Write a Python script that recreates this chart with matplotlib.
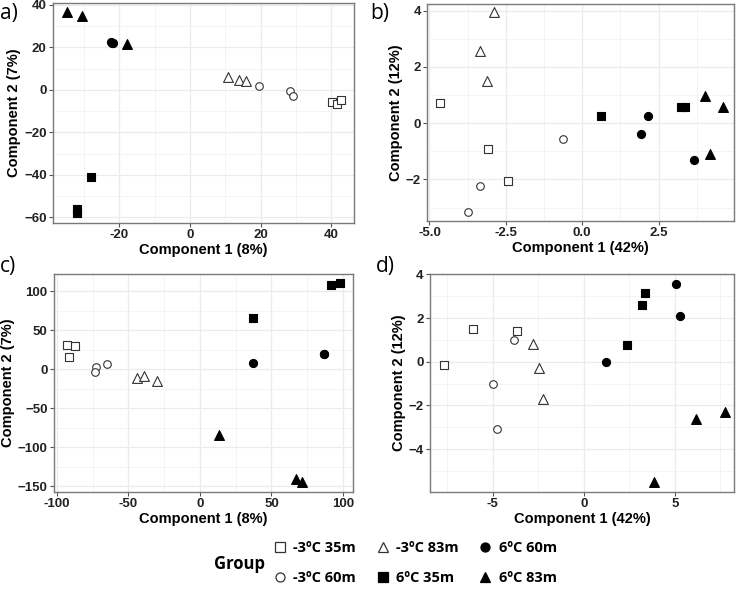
import matplotlib
matplotlib.use("Agg")
import matplotlib.pyplot as plt
from matplotlib.lines import Line2D
from matplotlib.ticker import MultipleLocator, FormatStrFormatter

groups = ["-3ºC 35m", "-3ºC 60m", "-3ºC 83m", "6ºC 35m", "6ºC 60m", "6ºC 83m"]
sample_group = [g for g in groups for _ in range(3)]

# panel a
a_x = [40.1, 41.7, 42.7, 19.4, 28.4, 29.2, 10.8, 14.0, 15.8,
       -27.9, -31.9, -31.9, -22.4, -21.7, -22.1, -34.7, -30.5, -17.8]
a_y = [-5.8, -6.8, -4.7, 1.7, -0.3, -2.7, 6.3, 4.7, 4.1,
       -41.0, -55.8, -57.7, 22.5, 22.0, 22.3, 36.6, 34.9, 21.4]
# panel b
b_x = [-4.64, -3.08, -2.43, -0.64, -3.33, -3.75, -2.88, -3.35, -3.13,
       0.63, 3.23, 3.35, 2.14, 1.92, 3.67, 4.03, 4.60, 4.17]
b_y = [0.72, -0.91, -2.04, -0.55, -2.22, -3.17, 3.94, 2.57, 1.51,
       0.27, 0.58, 0.57, 0.27, -0.40, -1.31, 0.96, 0.58, -1.10]
# panel c
c_x = [-92.6, -87.0, -91.2, -72.6, -73.3, -65.1, -43.7, -38.8, -30.2,
       37.2, 91.4, 97.7, 37.2, 86.5, 86.9, 13.0, 67.4, 71.6]
c_y = [31.1, 29.4, 15.4, 3.0, -3.8, 7.2, -10.7, -9.0, -14.9,
       65.7, 107.5, 110.0, 8.5, 20.0, 19.0, -84.4, -141.0, -145.0]
# panel d
d_x = [-7.67, -6.06, -3.68, -3.83, -4.98, -4.75, -2.78, -2.45, -2.21,
       3.36, 3.21, 2.39, 5.09, 5.27, 1.23, 3.85, 6.15, 7.74]
d_y = [-0.14, 1.51, 1.40, 0.99, -1.02, -3.06, 0.81, -0.29, -1.72,
       3.17, 2.58, 0.76, 3.57, 2.10, 0.00, -5.50, -2.64, -2.29]

styles = {
    "-3ºC 35m": dict(marker="s", facecolor="white", s=34),
    "-3ºC 60m": dict(marker="o", facecolor="white", s=30),
    "-3ºC 83m": dict(marker="^", facecolor="white", s=50),
    "6ºC 35m": dict(marker="s", facecolor="black", s=34),
    "6ºC 60m": dict(marker="o", facecolor="black", s=34),
    "6ºC 83m": dict(marker="^", facecolor="black", s=50),
}
edge_col = {"white": "#333333", "black": "black"}

panels = [
    ("a)", a_x, a_y, [53, 3, 354, 223], (-38.7, 46.4), (-62.6, 40.9), 20, 20, "%d",
     "Component 1 (8%)", "Component 2 (7%)", (0, 3)),
    ("b)", b_x, b_y, [427, 4, 734, 221], (-5.08, 4.97), (-3.48, 4.24), 2.5, 2, "%.1f",
     "Component 1 (42%)", "Component 2 (12%)", (370, 3)),
    ("c)", c_x, c_y, [54, 274, 353, 492], (-102, 107), (-157.4, 122), 50, 50, "%d",
     "Component 1 (8%)", "Component 2 (7%)", (0, 256)),
    ("d)", d_x, d_y, [430, 274, 734, 492], (-8.44, 8.25), (-5.96, 4.02), 5, 2, "%d",
     "Component 1 (42%)", "Component 2 (12%)", (376, 256)),
]

W, H = 740, 593
fig = plt.figure(figsize=(W / 100, H / 100), dpi=100)
tick_font = dict(family="Liberation Sans", weight="bold", size=9.5)

for lab, xs, ys, box, xl, yl, xstep, ystep, xfmt, xlab, ylab, lpos in panels:
    l, t, r, b = box
    ax = fig.add_axes([l / W, (H - b) / H, (r - l) / W, (b - t) / H])
    ax.set_xlim(*xl)
    ax.set_ylim(*yl)
    ax.xaxis.set_major_locator(MultipleLocator(xstep))
    ax.xaxis.set_minor_locator(MultipleLocator(xstep / 2))
    ax.yaxis.set_major_locator(MultipleLocator(ystep))
    ax.yaxis.set_minor_locator(MultipleLocator(ystep / 2))
    ax.xaxis.set_major_formatter(FormatStrFormatter(xfmt))
    ax.grid(True, which="major", color="#ebebeb", linewidth=0.9)
    ax.grid(True, which="minor", color="#f2f2f2", linewidth=0.6)
    ax.set_axisbelow(True)
    for sp in ax.spines.values():
        sp.set_color("#7a7a7a")
        sp.set_linewidth(1.0)
    ax.tick_params(which="major", length=3, width=0.8, color="#555555", pad=1.5)
    ax.tick_params(which="minor", length=0)
    for tl in ax.get_xticklabels() + ax.get_yticklabels():
        tl.set_fontproperties(matplotlib.font_manager.FontProperties(**tick_font))
        tl.set_color("#222222")
    for g in groups:
        gx = [x for x, sg in zip(xs, sample_group) if sg == g]
        gy = [y for y, sg in zip(ys, sample_group) if sg == g]
        st = styles[g]
        ax.scatter(gx, gy, marker=st["marker"], s=st["s"], facecolors=st["facecolor"],
                   edgecolors=edge_col[st["facecolor"]], linewidths=0.8, zorder=3)
    ax.set_xlabel(xlab, family="Liberation Sans", weight="bold", size=10.5, labelpad=1)
    ax.set_ylabel(ylab, family="Liberation Sans", weight="bold", size=10.5, labelpad=2)
    fig.text(lpos[0] / W, (H - lpos[1]) / H, lab, family="Open Sans", size=15,
             ha="left", va="top")

handles = []
for g in groups:
    st = styles[g]
    handles.append(Line2D([], [], linestyle="none", marker=st["marker"],
                          markersize=6.5 if st["marker"] != "^" else 7.5,
                          markerfacecolor=st["facecolor"],
                          markeredgecolor=edge_col[st["facecolor"]], markeredgewidth=0.9))
fig.legend(handles, groups, ncol=3, loc="upper left", bbox_to_anchor=(274 / W, (H - 541) / H),
           frameon=False, prop=dict(family="Open Sans", weight="bold", size=10.5),
           handlelength=0.8, handletextpad=0.5, columnspacing=1.45, labelspacing=1.1,
           borderpad=0, borderaxespad=0)
fig.text(214 / W, (H - 564) / H, "Group", family="Open Sans", weight="bold", size=12,
         ha="left", va="center")

fig.savefig("out.png", dpi=100)
